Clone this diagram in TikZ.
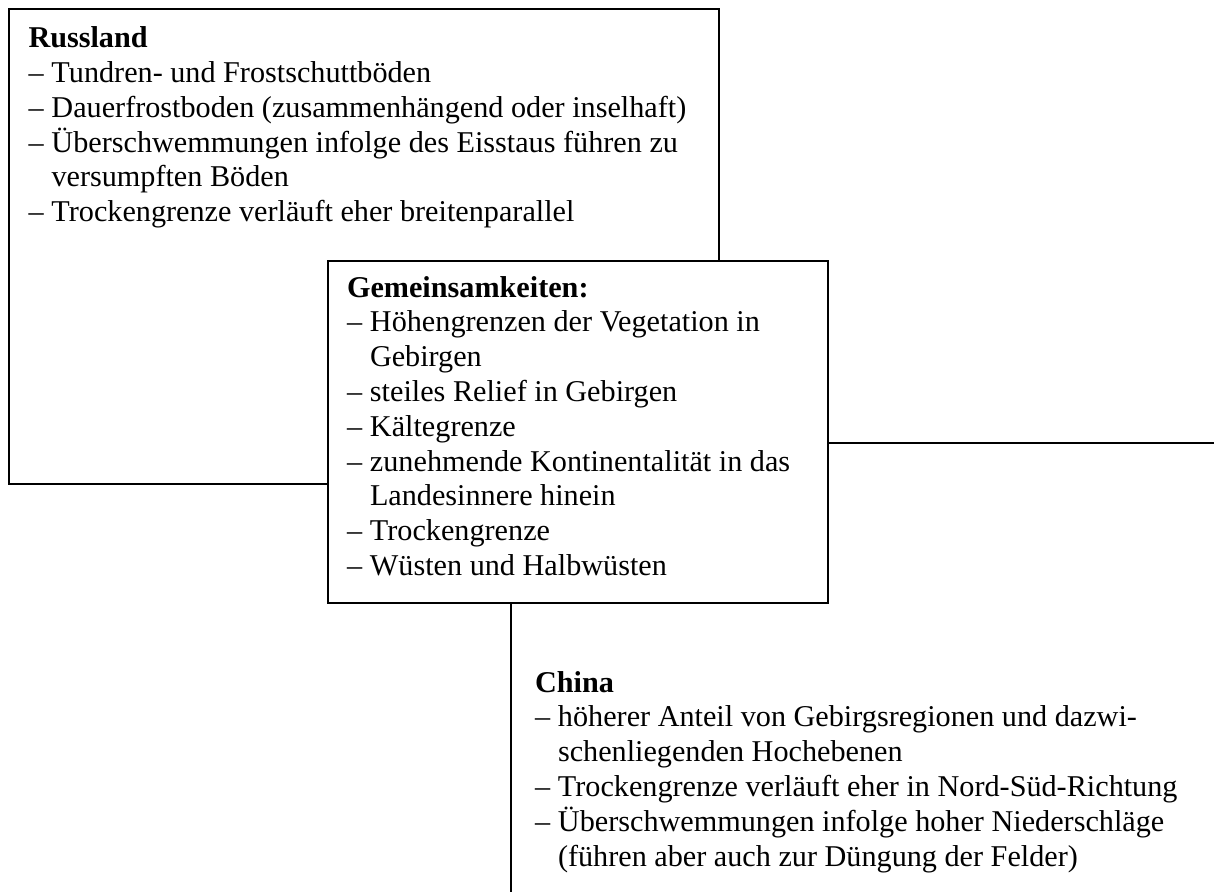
\documentclass[tikz,border=0pt]{standalone}
\usepackage{fontspec}
\setmainfont{Liberation Serif}
\newcommand\dashitem[1]{\makebox[11.5pt][l]{–}#1}
\newcommand\contline[1]{\hspace*{11.5pt}#1}
\begin{document}
\begin{tikzpicture}[x=0.5pt,y=-0.5pt,
  boxstyle/.style={draw=black,line width=1pt,fill=white,rectangle,inner sep=0pt,outer sep=0pt,anchor=north west},
  txtstyle/.style={anchor=base west,inner sep=0pt,outer sep=0pt,font=\fontsize{15.1}{17.4}\selectfont}]
\useasboundingbox (0,0) rectangle (1214,891);
\clip (0,0) rectangle (1214,891);
% China box (extends beyond the picture)
\node[boxstyle,minimum width=400pt,minimum height=300pt] (chinabox) at (511,443) {};
% Russland box
\node[boxstyle,minimum width=355pt,minimum height=237.5pt] (russbox) at (9,9.3) {};
% Gemeinsamkeiten box on top
\node[boxstyle,minimum width=250pt,minimum height=170.75pt] (gembox) at (328,261) {};

\node[txtstyle] (russtext) at (28.5,47.5) {\begin{tabular}[t]{@{}l@{}}
\textbf{Russland}\\
\dashitem{Tundren- und Frostschuttböden}\\
\dashitem{Dauerfrostboden (zusammenhängend oder inselhaft)}\\
\dashitem{Überschwemmungen infolge des Eisstaus führen zu}\\
\contline{versumpften Böden}\\
\dashitem{Trockengrenze verläuft eher breitenparallel}
\end{tabular}};

\node[txtstyle] (gemtext) at (347,297) {\begin{tabular}[t]{@{}l@{}}
\textbf{Gemeinsamkeiten:}\\
\dashitem{Höhengrenzen der Vegetation in}\\
\contline{Gebirgen}\\
\dashitem{steiles Relief in Gebirgen}\\
\dashitem{Kältegrenze}\\
\dashitem{zunehmende Kontinentalität in das}\\
\contline{Landesinnere hinein}\\
\dashitem{Trockengrenze}\\
\dashitem{Wüsten und Halbwüsten}
\end{tabular}};

\node[txtstyle] (chinatext) at (535,692) {\begin{tabular}[t]{@{}l@{}}
\textbf{China}\\
\dashitem{höherer Anteil von Gebirgsregionen und dazwi-}\\
\contline{schenliegenden Hochebenen}\\
\dashitem{Trockengrenze verläuft eher in Nord-Süd-Richtung}\\
\dashitem{Überschwemmungen infolge hoher Niederschläge}\\
\contline{(führen aber auch zur Düngung der Felder)}
\end{tabular}};
\end{tikzpicture}
\end{document}
